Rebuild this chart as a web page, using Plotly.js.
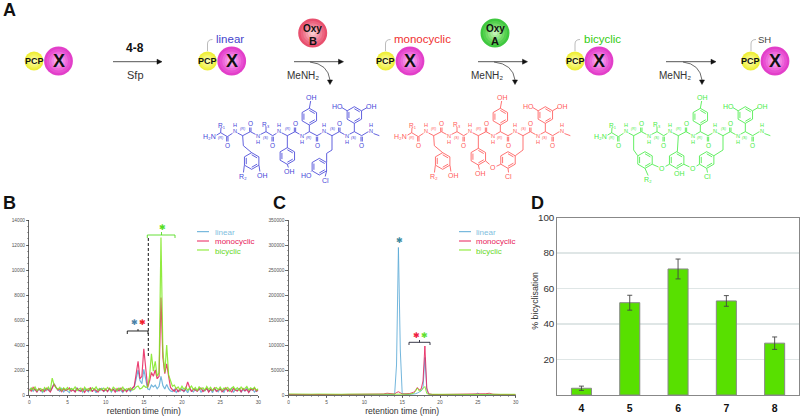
<!DOCTYPE html>
<html><head><meta charset="utf-8">
<script src="https://cdn.plot.ly/plotly-3.0.1.min.js"></script>
<style>html,body{margin:0;padding:0;background:#fff}#c{width:800px;height:417px}</style>
</head><body><div id="c"></div>
<script>
// ---------- panel B data (retention time min, intensity) ----------
const timeB = [0,0.25,0.5,0.75,1,1.25,1.5,1.75,2,2.25,2.5,2.75,3,3.25,3.5,3.75,4,4.25,4.5,4.75,
5,5.25,5.5,5.75,6,6.25,6.5,6.75,7,7.25,7.5,7.75,8,8.25,8.5,8.75,9,9.25,9.5,9.75,
10,10.25,10.5,10.75,11,11.25,11.5,11.75,12,12.25,12.5,12.75,13,13.25,13.5,13.75,14,14.25,14.5,14.75,
15,15.25,15.5,15.75,16,16.25,16.5,16.75,17,17.25,17.5,17.75,18,18.25,18.5,18.75,19,19.25,19.5,19.75,
20,20.25,20.5,20.75,21,21.25,21.5,21.75,22,22.25,22.5,22.75,23,23.25,23.5,23.75,24,24.25,24.5,24.75,
25,25.25,25.5,25.75,26,26.25,26.5,26.75,27,27.25,27.5,27.75,28,28.25,28.5,28.75,29,29.25,29.5,29.75,30];
const linearB = [420,520,300,480,260,450,380,210,470,340,520,290,600,900,560,420,300,520,250,430,
340,190,510,400,280,560,330,440,220,490,370,260,530,310,450,180,480,350,540,270,
410,300,500,230,460,360,290,520,390,200,470,330,430,280,510,650,1300,2000,1150,900,
2050,1300,500,420,800,650,780,500,700,1500,750,480,850,500,330,270,460,210,390,300,
500,260,440,180,520,350,240,470,310,560,200,420,330,540,280,460,190,510,370,250,
480,340,220,530,410,290,560,200,450,360,520,240,430,310,580,260,400,490,230,370,320];
const monoB = [480,300,620,380,250,520,330,440,280,550,400,240,560,880,620,380,490,270,520,350,
430,560,300,410,240,530,380,290,500,220,450,340,590,260,480,370,230,510,420,310,
490,270,540,360,450,230,520,320,580,290,430,260,500,380,550,700,1700,2700,1300,1500,
3700,2300,620,1100,1800,1500,2000,1300,1500,7800,3000,1700,2500,1500,600,420,300,560,240,480,
380,300,520,1050,600,260,480,420,300,470,550,280,400,520,230,450,340,560,290,410,
500,250,430,570,300,460,220,540,380,310,490,260,520,350,440,200,480,390,560,300,420];
const bicB = [300,560,420,650,350,480,520,280,590,430,640,380,1350,800,600,450,620,360,570,420,
600,380,520,430,640,350,480,560,300,620,410,510,340,590,440,650,360,520,420,560,
380,600,450,340,620,480,370,560,420,630,350,500,440,580,390,460,650,720,480,560,
750,620,640,1500,3300,1900,2700,1500,1800,12600,3500,1800,4000,1600,1100,700,800,500,650,420,
700,450,620,380,540,720,430,600,350,650,480,570,390,680,440,620,360,530,600,420,
640,390,560,470,610,350,540,660,420,590,370,630,460,520,680,400,580,440,620,380,500];
// ---------- panel C data ----------
const timeC = [0,1,2,3,4,5,6,7,8,9,10,11,12,12.5,13,13.5,14,14.25,14.5,14.75,15,15.5,16,16.5,16.75,17,17.25,17.5,17.75,18,18.25,18.5,19,20,21,22,23,24,24.75,25,25.25,26,26.5,27,28,29,30];
const linearC = [1000,800,1200,900,1000,800,900,1100,800,1000,700,900,800,900,1000,800,1500,60000,295000,90000,3000,1000,1200,1500,2500,4000,6000,8000,14000,75000,10000,1500,800,600,800,700,900,800,1500,4000,1200,900,800,700,800,900,600];
const monoC = [1200,900,1000,1300,800,1100,900,1000,1200,800,1000,900,2500,2000,3500,2500,2000,5000,6500,4500,2000,2500,3000,5500,9000,15000,10000,12000,28000,98000,14000,2500,1000,900,1100,800,1000,900,800,1000,900,2500,3500,1500,900,1000,800];
const bicC = [2000,1500,1800,1600,1900,1400,1700,1500,1800,1600,1400,1700,1500,1600,1400,1800,1500,1700,2000,1800,1500,1600,1800,3500,7000,14000,8000,9000,13000,17000,3000,1500,1500,1300,1600,1400,1200,1500,1300,1400,1500,1200,1500,1400,1300,1200,1400];
// ---------- panel D data ----------
const peptides = ['4','5','6','7','8'];
const bicyclisation = [3.8,52,71,53,29.2];
const bicycErr = [1.2,4.2,5.6,3,3.5];

const cLin='#5aa9d6', cMono='#e8205a', cBic='#7ee81e';
const W=800,H=417;
const X=p=>p/W, Y=p=>1-p/H;
const shapes=[], notes=[];
const FONT='"Liberation Sans",Arial,sans-serif';

function txt(x,y,t,size,color,opt){
  notes.push(Object.assign({xref:'paper',yref:'paper',x:X(x),y:Y(y),text:t,showarrow:false,xanchor:'center',yanchor:'middle',borderpad:0,
    font:{family:FONT,size:size,color:color}},opt||{}));
}
function path(d,color,width,opt){
  shapes.push(Object.assign({type:'path',xref:'paper',yref:'paper',path:d,line:{color:color,width:width},fillcolor:'rgba(0,0,0,0)',layer:'above'},opt||{}));
}
const seg=pts=>pts.map((p,i)=>(i?'L':'M')+' '+X(p[0]).toFixed(5)+' '+Y(p[1]).toFixed(5)).join(' ');
function circ(cx,cy,r,fill){
  shapes.push({type:'circle',xref:'paper',yref:'paper',x0:X(cx-r),x1:X(cx+r),y0:Y(cy+r),y1:Y(cy-r),fillcolor:fill,line:{width:0},layer:'above'});
}
function ball(cx,cy,r,cols){
  cols.forEach((c,i)=>circ(cx,cy,r*(1-i/cols.length),c));
}
const pink=['#e23fc9','#e850d2','#ee68da','#f283e2','#f6a0ea','#f9bff2'];
const yellow=['#eeee3a','#f2f24e','#f5f566','#f8f87e','#fbfb98','#fdfdb4'];
const rosy=['#e8506e','#ec6580','#f07c92','#f496a6','#f8b0ba','#fbcace'];
const leaf=['#3fc83f','#55d04f','#6fd963','#8ae27c','#a6ea98','#c2f2b6'];
function module(px,xx){
  ball(px,61,9.4,yellow);
  ball(xx,61,14.4,pink);
  txt(px,61.5,'<b>PCP</b>',9,'#111');
  txt(xx,61.5,'<b>X</b>',18,'#111');
}
module(34,58.5);module(207.5,231.7);module(385.7,410);module(575,599);module(750.7,775);
function enzyme(cx,top,bot,cols){
  ball(cx,33,14.5,cols);
  txt(cx,28,'<b>'+top+'</b>',10,'#111');
  txt(cx,41,'<b>'+bot+'</b>',11,'#111');
}
enzyme(312.7,'Oxy','B',rosy);
enzyme(495,'Oxy','A',leaf);
function arrow(x0,x1,y){
  path(seg([[x0,y],[x1-4,y]]),'#555',1);
  path(seg([[x1-5,y-2.5],[x1,y],[x1-5,y+2.5]])+' Z','#111',0.5,{fillcolor:'#111'});
}
function elim(x0,x1,y1){
  path('M '+X(x0)+' '+Y(62)+' Q '+X(x1-2)+' '+Y(64)+' '+X(x1)+' '+Y(y1-3),'#444',0.8);
  path(seg([[x1-2.5,y1-3],[x1+2.5,y1-3],[x1,y1+1.5]])+' Z','#111',0.5,{fillcolor:'#111'});
}
arrow(113,162,61.7); arrow(294,343.5,61.7); arrow(478,527.5,61.7); arrow(666,716,61.7);
elim(310,330,83); elim(494,515,83); elim(683,702,83);
txt(135,48.5,'<b>4-8</b>',12,'#111'); txt(135,74.5,'Sfp',11,'#333');
txt(303,75.5,'MeNH₂',10,'#333'); txt(487,75.5,'MeNH₂',10,'#333'); txt(675,75.5,'MeNH₂',10,'#333');
function linker(x,lab,color,lx){
  path('M '+X(x)+' '+Y(51)+' L '+X(x)+' '+Y(44)+' Q '+X(x)+' '+Y(39.5)+' '+X(x+5)+' '+Y(39.5),'#aaa',0.8);
  txt(lx,39.5,lab,11.5,color,{xanchor:'left'});
}
linker(207.5,'linear','#4444cc',214.5);
linker(385.5,'monocyclic','#f03030',392.5);
linker(575,'bicyclic','#33cc11',583);
linker(751,'SH','#444',756.5);
notes[notes.length-1].font.size=9.5;
txt(9,10,'<b>A</b>',18,'#111'); txt(9.5,203,'<b>B</b>',18,'#111'); txt(279,203,'<b>C</b>',18,'#111'); txt(537,203,'<b>D</b>',18,'#111');

// ---------- peptide structures ----------
const BACKBONE=[[72,155],[92,143],[112,155],[135,140],[158,152],[181,140],[204,152],[228,140],[248,152],[268,140],[292,152],[315,140],[337,152],[358,140],[381,152],[403,140],[426,152],[448,140],[470,152],[493,140],[515,152],[535,140],[568,152]];
const CO_DOWN=[112,248,381,515], CO_UP=[181,315,448];
const NH_UP=[135,268,403,543], NH_DOWN=[204,337,470];
const STEREO=[[92,160,'R'],[160,133,'R'],[228,158,'S'],[294,133,'R'],[358,159,'R'],[428,133,'S'],[493,159,'S']];
const VARIANT={
 linear:{rings:[[185,228],[292,213],[388,245]],
   bonds:[[[158,152],[160,182],[185,203]],[[292,152],[292,188]],[[426,152],[426,195],[410,205],[410,232]],[[207,241],[210,262]],[[163,241],[160,265]],[[292,238],[296,250]],[[366,257],[358,265]],[[410,257],[405,277]]],
   labels:[[160,275,'R₂'],[218,270,'OH'],[298,258,'OH'],[348,272,'HO'],[405,287,'Cl']]},
 mono:{rings:[[185,228],[292,215],[381,225]],
   bonds:[[[158,152],[160,182],[185,203]],[[292,152],[292,190]],[[426,152],[426,195],[403,212]],[[207,241],[210,262]],[[163,241],[160,265]],[[292,240],[296,257]],[[314,228],[337,248],[359,238]],[[381,250],[383,265]]],
   labels:[[160,275,'R₂'],[218,270,'OH'],[297,265,'OH'],[337,248,'O'],[383,275,'Cl']]},
 bic:{rings:[[192,225],[287,225],[377,225]],
   bonds:[[[158,152],[158,195],[170,212]],[[292,152],[289,200]],[[426,152],[426,195],[399,212]],[[214,238],[242,250],[265,238]],[[287,250],[295,257]],[[309,238],[335,250],[355,238]],[[192,250],[202,273]],[[377,250],[380,265]]],
   labels:[[202,282,'R₂'],[295,265,'OH'],[242,250,'O'],[335,250,'O'],[380,275,'Cl']]}
};
function molecule(ox,color,v){
  const lx=z=>190+ox+z/3, ly=z=>85+z/3;
  const P=pts=>pts.map(p=>[lx(p[0]),ly(p[1])]);
  let d=seg(P(BACKBONE));
  const add=pts=>{d+=' '+seg(P(pts));};
  const hex=(c,r)=>{
    const s=r*0.866,h=r/2;
    const vs=[[c[0],c[1]-r],[c[0]+s,c[1]-h],[c[0]+s,c[1]+h],[c[0],c[1]+r],[c[0]-s,c[1]+h],[c[0]-s,c[1]-h],[c[0],c[1]-r]];
    add(vs);
    [[0,1],[2,3],[4,5]].forEach(e=>{
      const a=vs[e[0]],b=vs[e[1]];
      add([[c[0]+(a[0]-c[0])*.75,c[1]+(a[1]-c[1])*.75],[c[0]+(b[0]-c[0])*.75,c[1]+(b[1]-c[1])*.75]]);
    });
  };
  CO_DOWN.forEach(x=>{add([[x-2,155],[x-2,174]]);add([[x+2,155],[x+2,174]]);txt(lx(x),ly(182),'O',6.5,color,{bgcolor:'#fff'});});
  CO_UP.forEach(x=>{add([[x-2,140],[x-2,122]]);add([[x+2,140],[x+2,122]]);txt(lx(x),ly(115),'O',6.5,color,{bgcolor:'#fff'});});
  NH_UP.forEach(x=>{txt(lx(x),ly(138),'N',5.6,color,{bgcolor:'#fff'});txt(lx(x),ly(120),'H',5.6,color);});
  NH_DOWN.forEach(x=>{txt(lx(x),ly(152),'N',5.6,color,{bgcolor:'#fff'});txt(lx(x),ly(170),'H',5.6,color);});
  STEREO.forEach(s=>txt(lx(s[0]),ly(s[1]),'<i>('+s[2]+')</i>',3.8,color));
  txt(lx(58),ly(156),'H₂N',7,color,{bgcolor:'#fff'});
  add([[92,143],[93,128]]); txt(lx(95),ly(120),'R₁',6.5,color);
  add([[228,140],[228,126]]); txt(lx(228),ly(118),'R₃',6.5,color);
  hex([358,95],25); add([[358,140],[358,120]]); add([[358,70],[362,48]]); txt(lx(365),ly(39),'OH',7,color);
  hex([493,90],25); add([[493,140],[493,115]]); add([[471,77],[456,68]]); add([[515,77],[531,68]]);
  txt(lx(442),ly(65),'HO',7,color); txt(lx(545),ly(65),'OH',7,color);
  v.rings.forEach(c=>hex(c,25));
  v.bonds.forEach(add);
  v.labels.forEach(l=>txt(lx(l[0]),ly(l[1]),l[2],7,color,{bgcolor:'#fff'}));
  path(d,color,0.85);
}
molecule(0,'#4646d8',VARIANT.linear);
molecule(191,'#ff5a5a',VARIANT.mono);
molecule(391,'#48ec48',VARIANT.bic);

// ---------- chart legends ----------
function legend(lx,tx){
  [[231.7,'linear','#7fc0de',cLin],[241,'monocyclic','#e8205a',cMono],[250,'bicyclic','#66d81e',cBic]].forEach(r=>{
    path(seg([[lx,r[0]],[lx+12,r[0]]]),r[3],1);
    txt(tx,r[0]+1,r[1],8,r[2],{xanchor:'left'});
  });
}
legend(197,213.7); legend(459,475);
function star(x,y,c){txt(x,y,'✱',8,c,{font:{family:'"DejaVu Sans"',size:8,color:c}});}
// B annotations
path(seg([[148.3,238],[148.3,358]]),'#111',1,{line:{color:'#111',width:1,dash:'3px,2px'}});
path(seg([[127.3,334],[127.3,331],[148,331],[148,334]])+' '+seg([[138,331],[138,329]]),'#111',0.9);
star(134.7,322,'#4a82a8'); star(142.3,322,'#f0202a');
path(seg([[147.3,238],[147.3,235],[175,235],[175,238]])+' '+seg([[161.5,235],[161.5,232]]),'#55dd22',0.9);
star(162,227.3,'#55dd22');
// C annotations
star(399.3,240,'#3d8aa0');
path(seg([[409,345],[409,342.3],[430,342.3],[430,345]])+' '+seg([[419.5,342.3],[419.5,340]]),'#223',0.9);
star(416.7,335,'#ef2040'); star(424.3,335,'#60e030');
// D y title
txt(535,300.7,'% bicyclisation',8.8,'#333',{textangle:-90});

const traceLine=(x,y,name,c,xa,ya,w)=>({type:'scatter',mode:'lines',x:x,y:y,name:name,xaxis:xa,yaxis:ya,opacity:0.85,line:{color:c,width:w,shape:'linear'},showlegend:false,hoverinfo:'skip'});
const data=[
 traceLine(timeB,linearB,'linear',cLin,'x','y',1.2),
 traceLine(timeB,monoB,'monocyclic',cMono,'x','y',1.2),
 traceLine(timeB,bicB,'bicyclic',cBic,'x','y',1.2),
 traceLine(timeC,linearC,'linear',cLin,'x2','y2',1),
 traceLine(timeC,monoC,'monocyclic',cMono,'x2','y2',1),
 traceLine(timeC,bicC,'bicyclic',cBic,'x2','y2',1),
 {type:'bar',x:peptides,y:bicyclisation,xaxis:'x3',yaxis:'y3',showlegend:false,width:0.415,
  marker:{color:'#58e000',line:{color:'#888',width:1}},
  error_y:{type:'data',array:bicycErr,visible:true,color:'#444',thickness:0.9,width:2.5},hoverinfo:'skip'}
];
const timeAxis=(l,r,anchor)=>({domain:[X(l),X(r)],range:[0,30],anchor:anchor,tickvals:[0,5,10,15,20,25,30],ticks:'outside',ticklen:2.5,tickwidth:0.7,tickcolor:'#333',
  minor:{dtick:1,ticks:'outside',ticklen:1.2,tickwidth:0.5,tickcolor:'#555',showgrid:false},
  showgrid:false,zeroline:false,showline:true,linecolor:'#444',linewidth:0.8,
  tickfont:{family:FONT,size:4.8,color:'#555'},
  title:{text:'retention time (min)',font:{family:FONT,size:8.6,color:'#333'},standoff:3}});
const intensityAxis=(anchor,max,dt,mn,fmtVals)=>({domain:[Y(395),Y(220)],range:[0,max],anchor:anchor,tickvals:fmtVals,ticks:'outside',ticklen:2.5,tickwidth:0.7,tickcolor:'#333',
  minor:{dtick:mn,ticks:'outside',ticklen:1.2,tickwidth:0.5,tickcolor:'#555',showgrid:false},
  showgrid:false,zeroline:false,showline:true,linecolor:'#444',linewidth:0.8,tickformat:'d',
  tickfont:{family:FONT,size:4.8,color:'#555'}});
const layout={
 width:W,height:H,margin:{l:0,r:0,t:0,b:0,pad:0},paper_bgcolor:'#fff',plot_bgcolor:'rgba(0,0,0,0)',showlegend:false,
 font:{family:FONT},
 bargap:0.585,
 xaxis:timeAxis(29.3,258.3,'y'),
 yaxis:intensityAxis('x',14000,2000,500,[0,2000,4000,6000,8000,10000,12000,14000]),
 xaxis2:timeAxis(288.7,515.7,'y2'),
 yaxis2:intensityAxis('x2',350000,50000,10000,[0,50000,100000,150000,200000,250000,300000,350000]),
 xaxis3:{domain:[X(557.3),X(798.8)],anchor:'y3',type:'category',categoryorder:'array',categoryarray:peptides,showline:true,linecolor:'#888',linewidth:1,mirror:true,ticks:'outside',ticklen:3,tickcolor:'rgba(0,0,0,0)',showgrid:false,
   tickfont:{family:FONT,size:10.5,color:'#111',weight:700}},
 yaxis3:{domain:[Y(395),Y(217.5)],anchor:'x3',range:[0,100],tickvals:[20,40,60,80,100],ticks:'',showgrid:true,gridcolor:'#dfe6e6',gridwidth:1.5,zeroline:false,showline:true,linecolor:'#888',linewidth:1,mirror:true,
   tickfont:{family:FONT,size:9.8,color:'#333'}},
 shapes:shapes,annotations:notes
};
Plotly.newPlot('c',data,layout,{staticPlot:true,displayModeBar:false});
</script></body></html>
